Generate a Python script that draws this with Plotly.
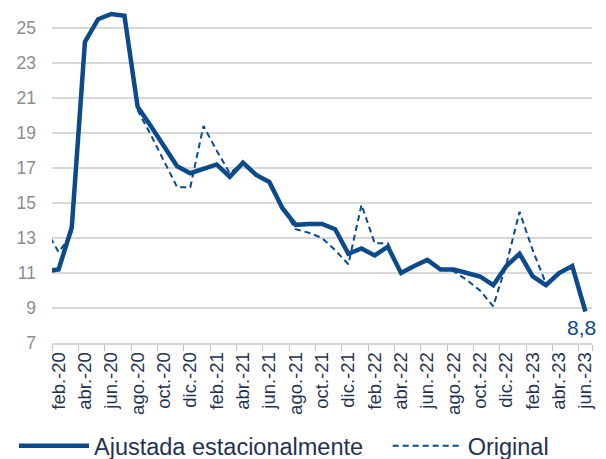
import plotly.graph_objects as go

months = ["ene.-20", "feb.-20", "mar.-20", "abr.-20", "may.-20", "jun.-20", "jul.-20", "ago.-20",
          "sep.-20", "oct.-20", "nov.-20", "dic.-20",
          "ene.-21", "feb.-21", "mar.-21", "abr.-21", "may.-21", "jun.-21", "jul.-21", "ago.-21",
          "sep.-21", "oct.-21", "nov.-21", "dic.-21",
          "ene.-22", "feb.-22", "mar.-22", "abr.-22", "may.-22", "jun.-22", "jul.-22", "ago.-22",
          "sep.-22", "oct.-22", "nov.-22", "dic.-22",
          "ene.-23", "feb.-23", "mar.-23", "abr.-23", "may.-23", "jun.-23"]

ajustada = [11.1, 11.2, 13.6, 24.2, 25.5, 25.8, 25.7, 20.5, 19.4, 18.2, 17.1, 16.7,
            16.95, 17.2, 16.5, 17.3, 16.6, 16.2, 14.7, 13.75, 13.8, 13.8, 13.5, 12.1,
            12.4, 12.0, 12.5, 11.0, 11.4, 11.75, 11.2, 11.2, 11.0, 10.8, 10.3, 11.4,
            12.1, 10.8, 10.3, 11.0, 11.4, 8.8]

original = [13.5, 12.2, 13.2, 24.2, 25.5, 25.8, 25.7, 20.3, 18.9, 17.4, 15.9, 15.9,
            19.4, 18.0, 16.7, 17.3, 16.6, 16.2, 14.7, 13.5, 13.3, 13.0, 12.3, 11.5,
            14.9, 12.7, 12.7, 11.0, 11.4, 11.75, 11.2, 11.1, 10.6, 10.0, 9.1, 11.5,
            14.5, 12.3, 10.4, 11.0, 11.4, 8.8]

series_names = ["Ajustada estacionalmente", "Original"]
tick_labels = months[1::2]
y_ticks = [7, 9, 11, 13, 15, 17, 19, 21, 23, 25]

BLUE = "#0B4A8B"
TEXT = "#1F3350"
FONT = "Liberation Sans, Arial, sans-serif"
NBSP = "\u00a0"

fig = go.Figure()
fig.add_trace(go.Scatter(x=months, y=ajustada, mode="lines", name=series_names[0] + NBSP * 3,
                         line=dict(color=BLUE, width=4.5)))
fig.add_trace(go.Scatter(x=months, y=original, mode="lines", name=series_names[1],
                         line=dict(color=BLUE, width=2, dash="6px,4px")))

fig.add_annotation(x=months[-1], y=ajustada[-1], text=f"{ajustada[-1]:.1f}".replace(".", ","),
                   showarrow=False, yshift=-16, xshift=-4,
                   font=dict(size=21, color=BLUE, family=FONT))

fig.update_layout(
    width=598, height=451,
    margin=dict(l=44, r=14, t=0, b=116, autoexpand=False),
    paper_bgcolor="white", plot_bgcolor="white",
    font=dict(family=FONT),
    showlegend=True,
    legend=dict(orientation="h", xref="container", yref="container",
                x=0.01, xanchor="left", y=0.029, yanchor="middle",
                font=dict(size=23.5, color=TEXT), itemwidth=70, tracegroupgap=0,
                bgcolor="rgba(0,0,0,0)"),
    xaxis=dict(type="category", categoryorder="array", categoryarray=months,
               range=[0.5, len(months) - 0.5], automargin=False,
               tickmode="array", tickvals=tick_labels, ticktext=tick_labels,
               tickson="boundaries", ticks="outside", ticklen=6, tickcolor="#BFBFBF",
               tickangle=-90, tickfont=dict(size=18.5, color=TEXT),
               showgrid=False, showline=True, linecolor="#D9D9D9", linewidth=1.5,
               zeroline=False),
    yaxis=dict(range=[7, 26.14], tickmode="array", tickvals=y_ticks, automargin=False,
               showgrid=True, gridcolor="#D9D9D9", gridwidth=1.5,
               showline=False, zeroline=False, ticks="",
               ticklabelstandoff=15,
               tickfont=dict(size=17.5, color="#8C8C8C")),
)

fig.write_html("out.html")
